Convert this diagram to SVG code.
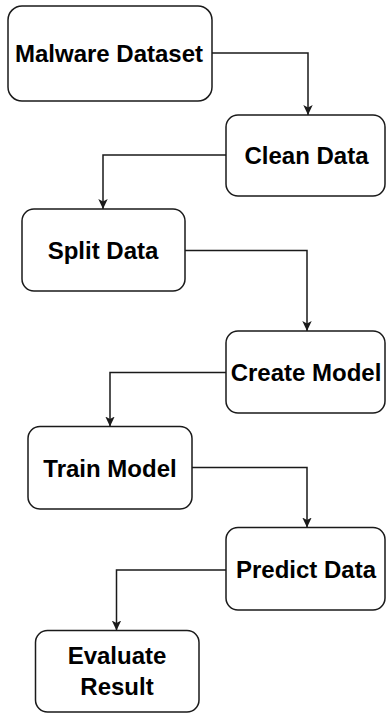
<svg xmlns="http://www.w3.org/2000/svg" width="386" height="713" viewBox="0 0 386 713">
  <style>
    .box { fill: #ffffff; stroke: #1a1a1a; stroke-width: 1.5; }
    .label { font-family: "Liberation Sans", Arial, Helvetica, sans-serif; font-weight: bold; font-size: 24px; fill: #000000; text-anchor: middle; }
    .edge { fill: none; stroke: #1a1a1a; stroke-width: 1.5; marker-end: url(#arrow); }
  </style>
  <defs>
    <marker id="arrow" markerUnits="userSpaceOnUse" viewBox="0 0 10 10" refX="10" refY="5" markerWidth="10" markerHeight="11" orient="auto">
      <path d="M0,0.3 L10,5 L0,9.7 L2.5,5 Z" fill="#1a1a1a"/>
    </marker>
  </defs>

  <rect width="386" height="713" fill="#ffffff"/>

  <!-- connectors -->
  <g id="connectors">
    <path class="edge" d="M212,53 H308 V115"/>
    <path class="edge" d="M226,155 H103 V209"/>
    <path class="edge" d="M185,250.5 H307 V331"/>
    <path class="edge" d="M226,372.5 H110 V426.5"/>
    <path class="edge" d="M192,467.5 H307 V527.5"/>
    <path class="edge" d="M226,570 H116.5 V630.5"/>
  </g>

  <!-- process steps -->
  <g id="malware-dataset">
    <rect class="box" x="8" y="6" width="204" height="95" rx="14"/>
    <text class="label" x="109" y="62">Malware Dataset</text>
  </g>
  <g id="clean-data">
    <rect class="box" x="226" y="115" width="159" height="81" rx="12"/>
    <text class="label" x="306.5" y="164">Clean Data</text>
  </g>
  <g id="split-data">
    <rect class="box" x="22" y="209" width="163" height="82" rx="12"/>
    <text class="label" x="103" y="259">Split Data</text>
  </g>
  <g id="create-model">
    <rect class="box" x="226" y="331" width="159" height="82" rx="12"/>
    <text class="label" x="306" y="381">Create Model</text>
  </g>
  <g id="train-model">
    <rect class="box" x="28" y="426.5" width="164" height="82.5" rx="12"/>
    <text class="label" x="110" y="477">Train Model</text>
  </g>
  <g id="predict-data">
    <rect class="box" x="226" y="527.5" width="159" height="82.5" rx="12"/>
    <text class="label" x="306" y="578">Predict Data</text>
  </g>
  <g id="evaluate-result">
    <rect class="box" x="35.5" y="630.5" width="163.5" height="81.5" rx="12"/>
    <text class="label" x="117" y="664">Evaluate</text>
    <text class="label" x="117" y="695">Result</text>
  </g>
</svg>
